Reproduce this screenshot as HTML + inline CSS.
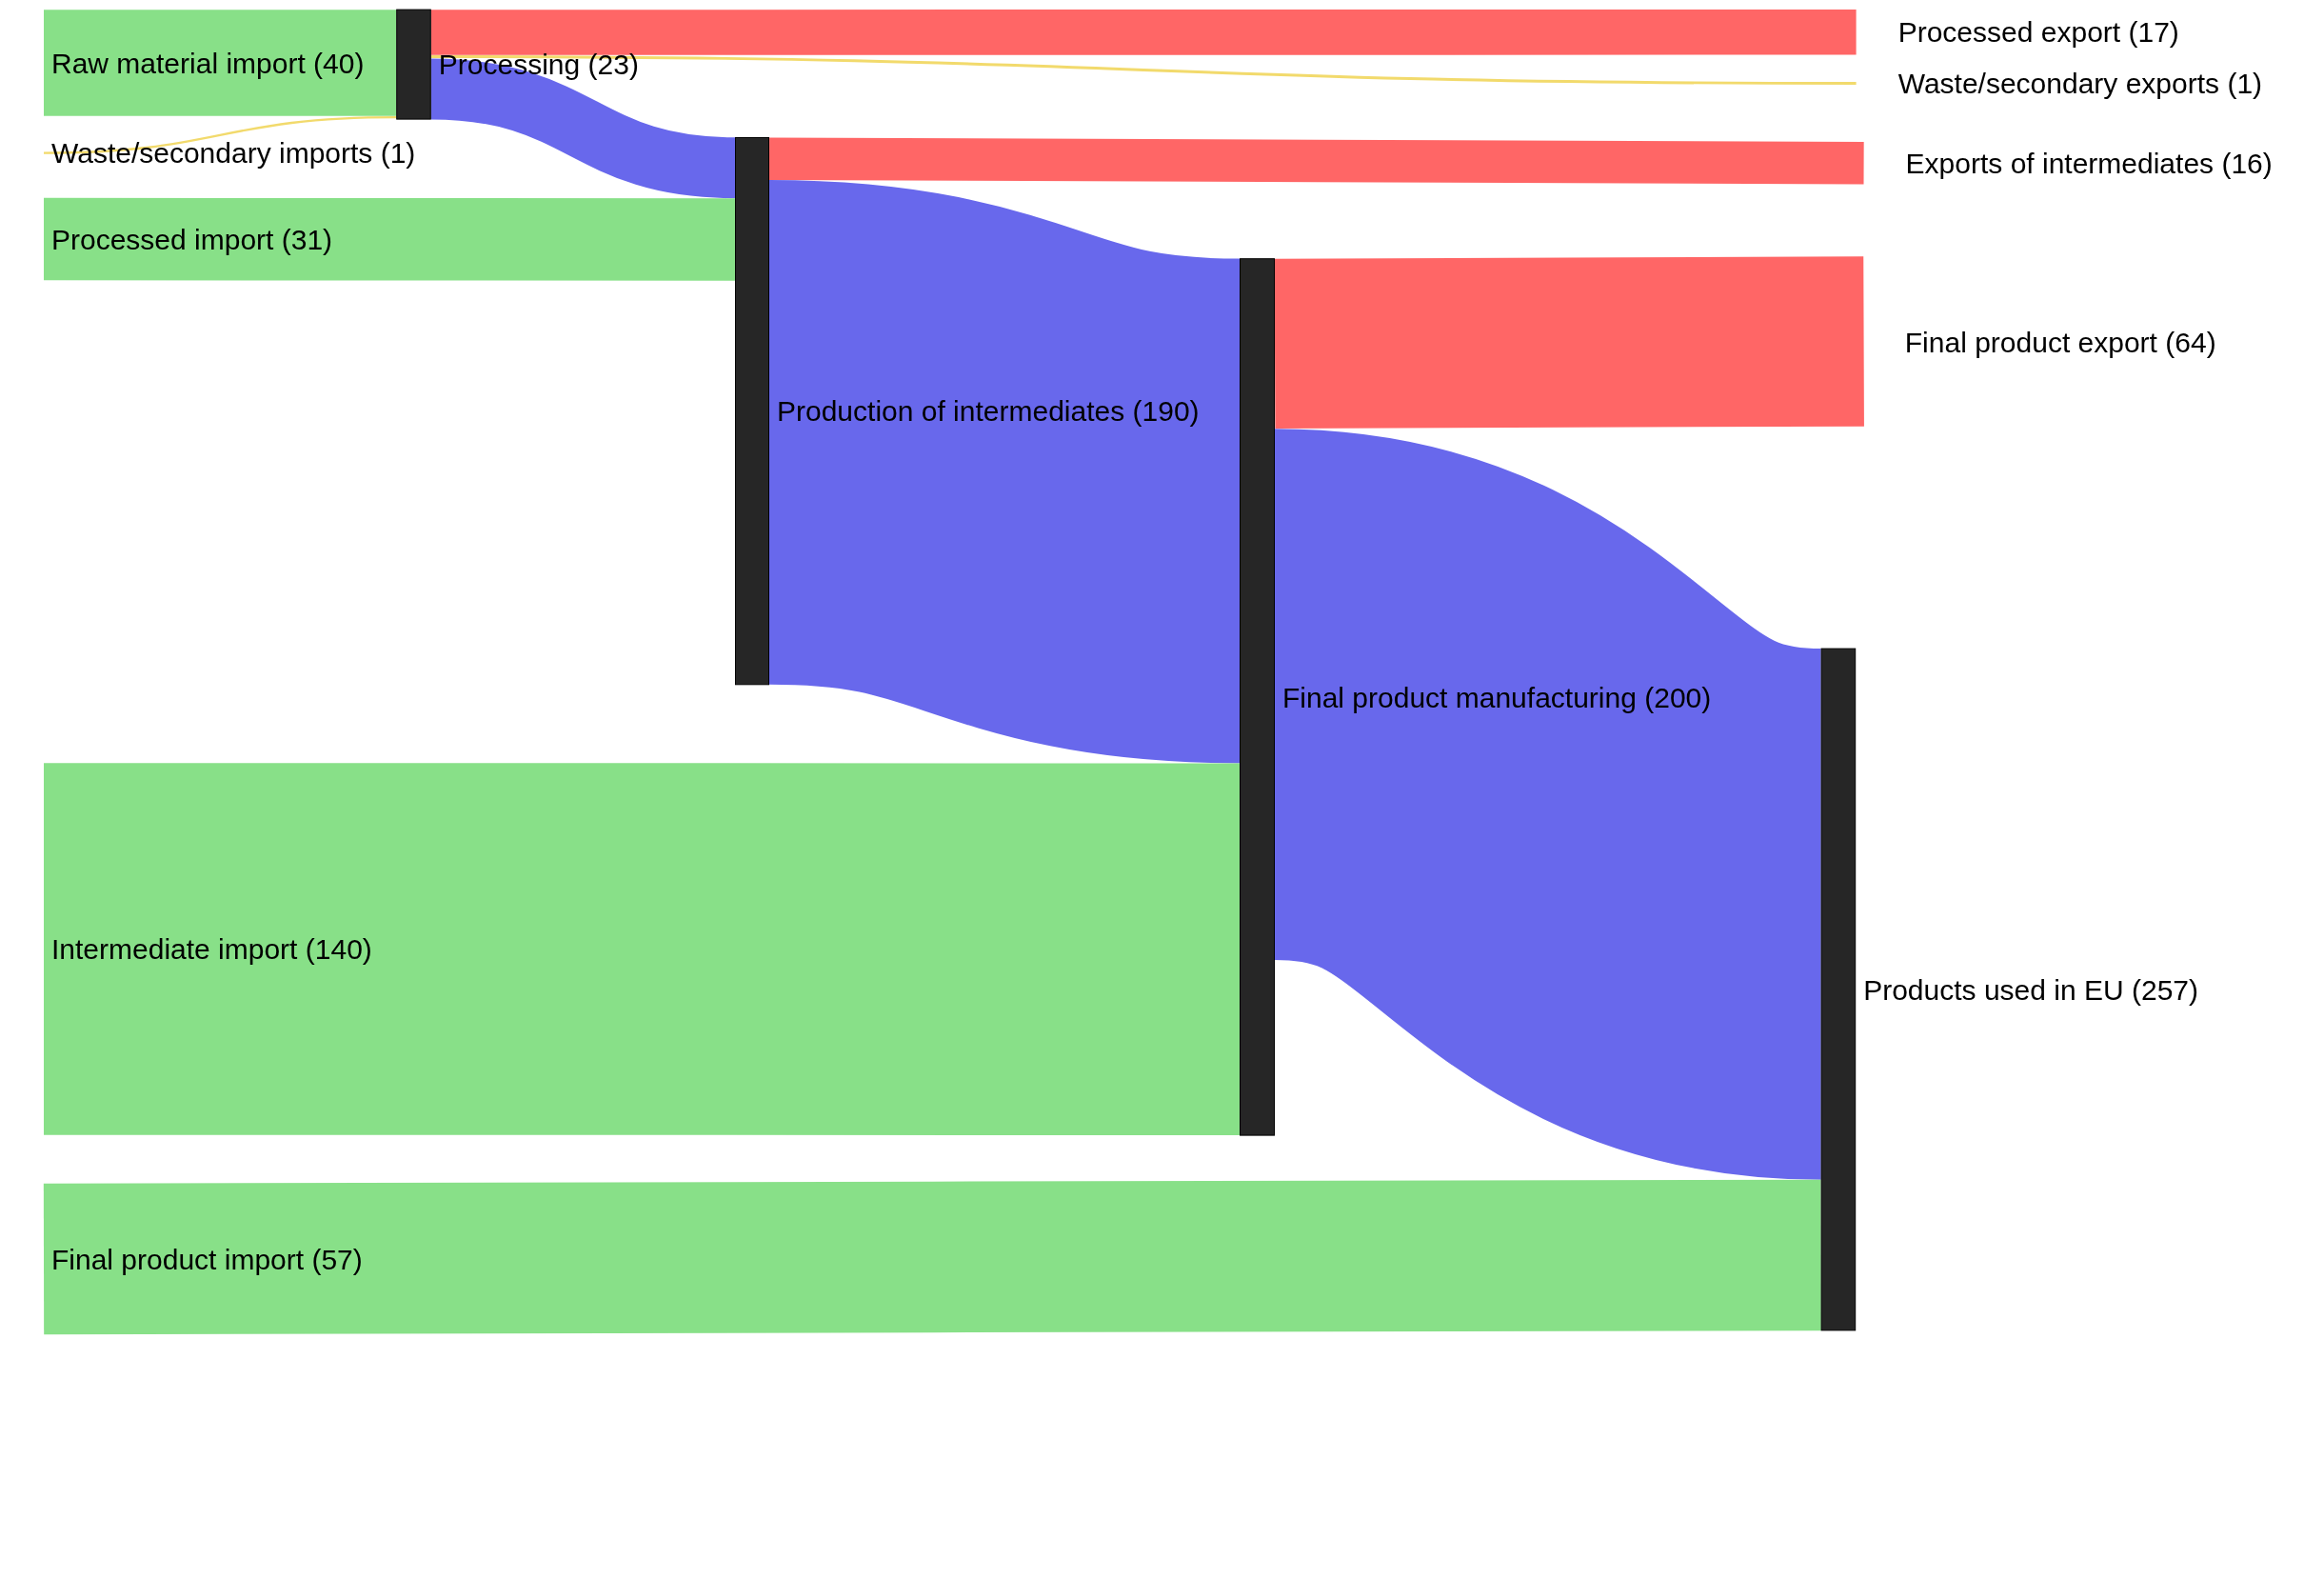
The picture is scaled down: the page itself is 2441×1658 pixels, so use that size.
<!DOCTYPE html><html><head><meta charset="utf-8"><style>html,body{margin:0;padding:0;background:#fff;overflow:hidden}svg{display:block}text{font-family:"Liberation Sans",sans-serif;font-size:30px;fill:#000}</style></head><body>
<svg width="2441" height="1658" viewBox="0 0 2441 1658" style="will-change:transform">
<g>
<path fill="none" stroke="#88e088" stroke-width="111.50" d="M46.00,65.95C231.10,65.95 231.10,65.95 416.20,65.95"/>
<path fill="none" stroke="#f2da6c" stroke-width="2.40" d="M46.00,160.60C231.10,160.60 231.10,123.10 416.20,123.10"/>
<path fill="none" stroke="#ff6666" stroke-width="47.60" d="M452.80,34.00C1201.20,34.00 1201.20,33.80 1949.60,33.80"/>
<path fill="none" stroke="#f2da6c" stroke-width="2.95" d="M452.80,59.40C1201.20,59.40 1201.20,87.45 1949.60,87.45"/>
<path fill="none" stroke="#6868ec" stroke-width="63.90" d="M452.80,93.55C612.40,93.55 612.40,176.25 772.00,176.25"/>
<path fill="none" stroke="#88e088" stroke-width="86.50" d="M46.00,251.10C409.00,251.10 409.00,251.40 772.00,251.40"/>
<path fill="none" stroke="#ff6666" stroke-width="44.50" d="M808.00,166.70C1382.80,166.70 1382.80,171.20 1957.60,171.20"/>
<path fill="none" stroke="#6868ec" stroke-width="529.80" d="M808.00,453.90C1055.00,453.90 1055.00,536.50 1302.00,536.50"/>
<path fill="none" stroke="#88e088" stroke-width="390.50" d="M46.00,996.55C674.00,996.55 674.00,996.65 1302.00,996.65"/>
<path fill="none" stroke="#ff6666" stroke-width="178.30" d="M1339.00,360.90C1648.30,360.90 1648.30,358.50 1957.60,358.50"/>
<path fill="none" stroke="#6868ec" stroke-width="557.70" d="M1339.00,729.05C1625.80,729.05 1625.80,959.85 1912.60,959.85"/>
<path fill="none" stroke="#88e088" stroke-width="158.50" d="M46.00,1321.95C979.30,1321.95 979.30,1317.95 1912.60,1317.95"/>
</g><g>
<rect x="416.70" y="10.10" width="35.60" height="115.00" fill="#262626" stroke="#000" stroke-width="1"/>
<rect x="772.50" y="144.50" width="35.00" height="574.30" fill="#262626" stroke="#000" stroke-width="1"/>
<rect x="1302.50" y="271.70" width="36.00" height="920.40" fill="#262626" stroke="#000" stroke-width="1"/>
<rect x="1913.10" y="681.10" width="35.60" height="715.80" fill="#262626" stroke="#000" stroke-width="1"/>
</g><g>
<text x="54" y="77.0">Raw material import (40)</text>
<text x="54" y="171.0">Waste/secondary imports (1)</text>
<text x="54" y="261.5">Processed import (31)</text>
<text x="54" y="1007.0">Intermediate import (140)</text>
<text x="54" y="1332.5">Final product import (57)</text>
<text x="460.8" y="78.0">Processing (23)</text>
<text x="816" y="442.0">Production of intermediates (190)</text>
<text x="1347" y="742.5">Final product manufacturing (200)</text>
<text x="1957.2" y="1050.0">Products used in EU (257)</text>
<text x="1993.7" y="44.2">Processed export (17)</text>
<text x="1993.7" y="97.8">Waste/secondary exports (1)</text>
<text x="2001.6" y="182.0">Exports of intermediates (16)</text>
<text x="2000.8" y="369.5">Final product export (64)</text>
</g></svg></body></html>
